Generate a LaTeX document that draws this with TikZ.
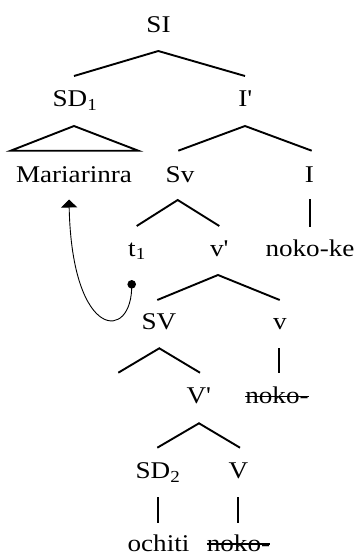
\documentclass[tikz,border=0pt]{standalone}
\usepackage{fontspec}
\setmainfont{Liberation Serif}[FakeStretch=1.13]
\usetikzlibrary{arrows.meta}
\begin{document}
\begin{tikzpicture}[x=1pt,y=-1pt,
  lab/.style={anchor=base,inner sep=0pt,font=\fontsize{24}{28}\selectfont},
  branch/.style={line width=1.9pt},
  strike/.style={line width=1.1pt},
  movearrow/.style={line width=0.9pt,-{Triangle[width=16pt,length=8pt]}}]
\useasboundingbox (0,0) rectangle (356,555);
% labels
\node[lab] (SI) at (158.5,32) {SI};
\node[lab] (SD1) at (75,106.5) {SD\textsubscript{1}};
\node[lab] (Ib) at (245,106.5) {I\textquotesingle};
\node[lab] (Maria) at (74,182) {Mariarinra};
\node[lab] (Sv) at (180,182) {Sv};
\node[lab] (I) at (309.5,182) {I};
\node[lab] (t1) at (137,256) {t\textsubscript{1}};
\node[lab] (vb) at (219,256) {v\textquotesingle};
\node[lab] (nokoke) at (310,256) {noko-ke};
\node[lab] (SV) at (159,329) {SV};
\node[lab] (v) at (280,329) {v};
\node[lab] (Vb) at (198.5,403.5) {V\textquotesingle};
\node[lab] (noko1) at (277,403.5) {noko-};
\node[lab] (SD2) at (158,478.5) {SD\textsubscript{2}};
\node[lab] (V) at (238.5,478.5) {V};
\node[lab] (ochiti) at (158.5,551) {ochiti};
\node[lab] (noko2) at (238.5,551) {noko-};
% strikethroughs
\draw[strike] ([yshift=7pt]noko1.base west) -- ([yshift=7pt]noko1.base east);
\draw[strike] ([yshift=7pt]noko2.base west) -- ([yshift=7pt]noko2.base east);
% branch points
\coordinate (SIa) at (158.3,51);
\coordinate (SIl) at (74,76);
\coordinate (SIr) at (245,76);
\coordinate (SDa) at (74,126);
\coordinate (SDl) at (10.7,150.7);
\coordinate (SDr) at (138.3,150.7);
\coordinate (Iba) at (245,126);
\coordinate (Ibl) at (178.3,150.7);
\coordinate (Ibr) at (311.7,150.7);
\coordinate (Sva) at (177.7,200);
\coordinate (Svl) at (136.7,226);
\coordinate (Svr) at (219.3,226);
\coordinate (It) at (310,199);
\coordinate (Ib2) at (310,226.5);
\coordinate (vba) at (218,275);
\coordinate (vbl) at (157.3,300);
\coordinate (vbr) at (279.7,300);
\coordinate (SVa) at (159.3,348.3);
\coordinate (SVl) at (118.3,372.7);
\coordinate (SVr) at (200,372.7);
\coordinate (vt) at (279.3,348);
\coordinate (vb2) at (279.3,373);
\coordinate (Vba) at (199,423.3);
\coordinate (Vbl) at (157.3,447.7);
\coordinate (Vbr) at (240,447.7);
\coordinate (SD2t) at (157.7,497.3);
\coordinate (SD2b) at (157.7,523.3);
\coordinate (Vt) at (238.3,497.3);
\coordinate (Vb2) at (238.3,523.3);
% branches
\draw[branch] (SIl) -- (SIa) -- (SIr);
\draw[branch] (SDl) -- (SDa) -- (SDr) -- cycle;
\draw[branch] (Ibl) -- (Iba) -- (Ibr);
\draw[branch] (Svl) -- (Sva) -- (Svr);
\draw[branch] (It) -- (Ib2);
\draw[branch] (vbl) -- (vba) -- (vbr);
\draw[branch] (SVl) -- (SVa) -- (SVr);
\draw[branch] (vt) -- (vb2);
\draw[branch] (Vbl) -- (Vba) -- (Vbr);
\draw[branch] (SD2t) -- (SD2b);
\draw[branch] (Vt) -- (Vb2);
% movement arrow
\coordinate (dot) at (131.7,284.3);
\coordinate (tip) at (69,199.5);
\fill (dot) circle (4.3);
\draw[movearrow] (dot) .. controls (133,342) and (72,342) .. (tip);
\end{tikzpicture}
\end{document}
